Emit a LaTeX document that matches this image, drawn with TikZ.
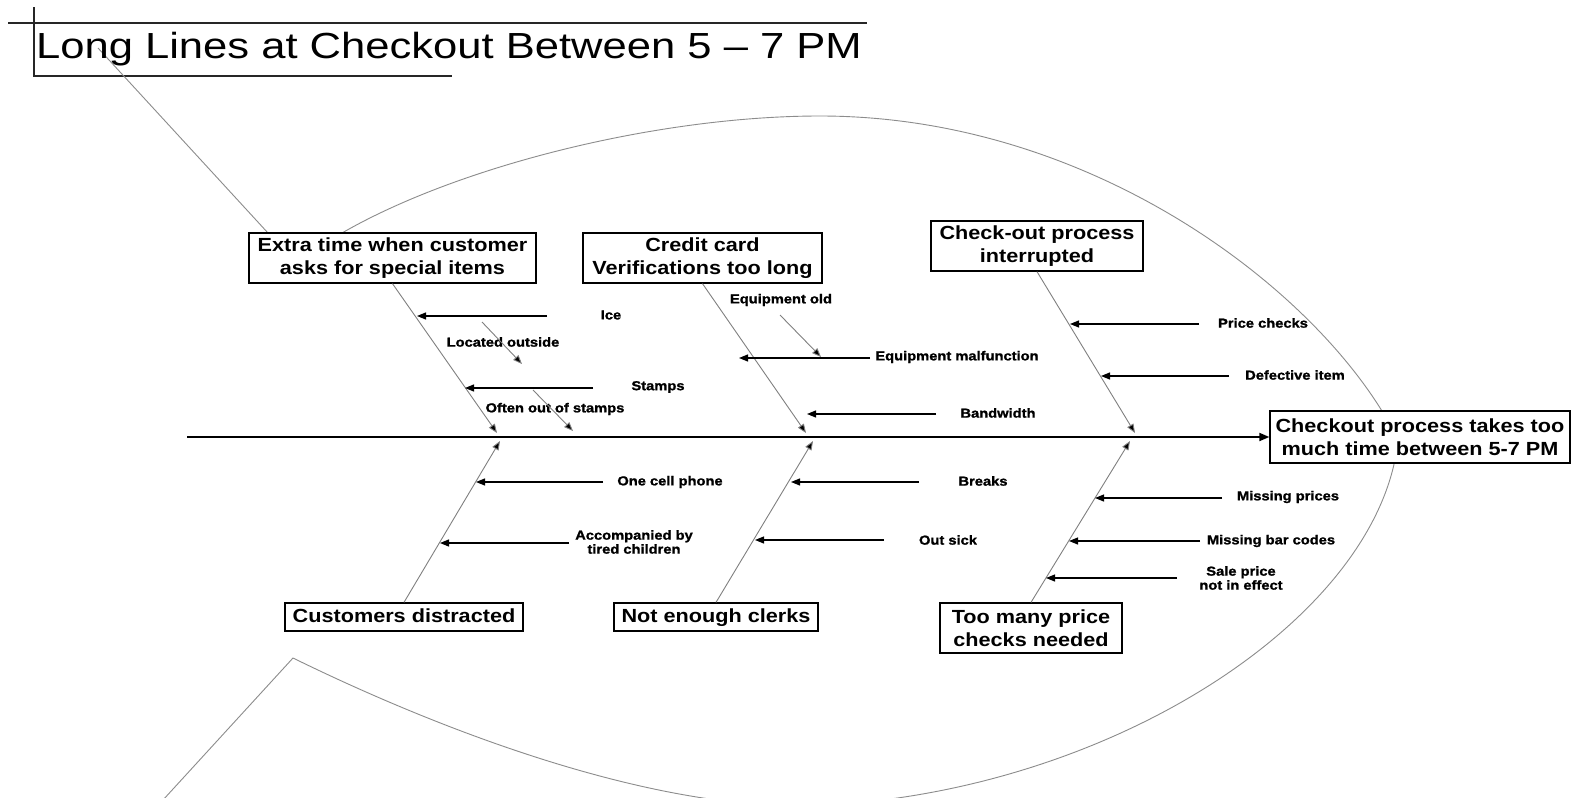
\documentclass[tikz,border=0pt]{standalone}
\usepackage{fontspec}
\setmainfont{Liberation Sans}
\newfontfamily\titlefam[FakeStretch=1.2]{Liberation Sans}
\newfontfamily\boxfam[FakeStretch=1.14]{Liberation Sans}
\newfontfamily\lblfam[FakeStretch=1.13, BoldFeatures={FakeBold=1.3}]{Liberation Sans}
\newcommand\titlefnt{\titlefam\fontsize{36.3}{40}\selectfont}
\newcommand\boxfnt{\boxfam\bfseries\fontsize{19}{22.5}\selectfont}
\newcommand\lblfnt{\lblfam\bfseries\fontsize{13}{14}\selectfont}
\usetikzlibrary{arrows.meta,calc}
\tikzset{
  causebox/.style={draw=black, line width=1.3pt, fill=white, font=\boxfnt, align=center, inner sep=0pt},
  onelinebox/.style={causebox, text height=14pt, text depth=4pt},
  lbl/.style={font=\lblfnt, align=center, inner sep=0pt},
  spine/.style={draw=black, line width=1.8pt, -{Triangle[length=10pt,width=8pt]}},
  bone/.style={draw=black!50, line width=0.9pt, -{Triangle[length=9pt,width=7pt,fill=black]}},
  subarrow/.style={draw=black, line width=1.2pt, -{Triangle[length=9pt,width=7pt]}},
  outline/.style={draw=black!45, line width=0.9pt},
  frameline/.style={draw=black!85, line width=1.1pt}
}
\begin{document}
\begin{tikzpicture}[x=1pt,y=-1pt]
\path[use as bounding box, fill=white] (0,0) rectangle (1572,798);
\begin{scope}
\clip (0,0) rectangle (1572,798);
% fish outline
\coordinate (bodystart) at (342,233);
\coordinate (peak) at (820,116);
\coordinate (nose) at (1398,440);
\coordinate (belly) at (800,806);
\coordinate (tailtop) at (293,658);
\coordinate (tailend) at (152,812);
\draw[outline] (bodystart) .. controls (460,165) and (660,116) .. (peak)
   .. controls (1100,116) and (1330,300) .. (nose)
   .. controls (1380,620) and (1100,800) .. (belly)
   .. controls (640,806) and (440,730) .. (tailtop) -- (tailend);
% title decoration lines
\coordinate (tl1) at (8,23);
\coordinate (tl2) at (867,23);
\coordinate (tv1) at (34,7);
\coordinate (tv2) at (34,76);
\coordinate (tb2) at (452,76);
\coordinate (hd1) at (98,48);
\coordinate (hd2) at (268,233);
\draw[frameline] (tl1) -- (tl2);
\draw[frameline] (tv1) -- (tv2) -- (tb2);
\draw[outline] (hd1) -- (hd2);
\end{scope}

\node[font=\titlefnt, anchor=base, inner sep=0pt] (title) at (449,58) {Long Lines at Checkout Between 5 – 7 PM};

% spine
\node[causebox, minimum width=300pt, minimum height=52pt] (eff) at (1420,437) {Checkout process takes too\\much time between 5-7 PM};
\coordinate (sp0) at (187,437);
\draw[spine] (sp0) -- (eff.west);

% cause boxes
\node[causebox, minimum width=287pt, minimum height=50pt] (c1) at (392.5,258) {Extra time when customer\\asks for special items};
\node[causebox, minimum width=239pt, minimum height=50pt] (c2) at (702.5,258) {Credit card\\Verifications too long};
\node[causebox, minimum width=212pt, minimum height=50pt] (c3) at (1037,246) {Check-out process\\interrupted};
\node[onelinebox, minimum width=238pt, minimum height=28pt] (c5) at (404,617) {Customers distracted};
\node[onelinebox, minimum width=204pt, minimum height=28pt] (c6) at (716,617) {Not enough clerks};
\node[causebox, minimum width=182pt, minimum height=50pt] (c7) at (1031,628) {Too many price\\checks needed};

% bones
\coordinate (u1b) at (497,433);
\coordinate (u2b) at (806,433);
\coordinate (u3b) at (1135,433);
\coordinate (l1b) at (500,441);
\coordinate (l2b) at (813,441);
\coordinate (l3b) at (1130,441);
\draw[bone] (c1.south) -- (u1b);
\draw[bone] (c2.south) -- (u2b);
\draw[bone] (c3.south) -- (u3b);
\draw[bone] (c5.north) -- (l1b);
\draw[bone] (c6.north) -- (l2b);
\draw[bone] (c7.north) -- (l3b);

% labels
\node[lbl] (ice) at (611,315) {Ice};
\node[lbl] (loc) at (503,342) {Located outside};
\node[lbl] (stamps) at (658,387) {Stamps};
\node[lbl] (often) at (555,409) {Often out of stamps};
\node[lbl] (eqold) at (781,300) {Equipment old};
\node[lbl] (eqmal) at (957,357) {Equipment malfunction};
\node[lbl] (band) at (998,413) {Bandwidth};
\node[lbl] (price) at (1263,323) {Price checks};
\node[lbl] (defect) at (1295,375) {Defective item};
\node[lbl] (cell) at (670,482) {One cell phone};
\node[lbl] (accomp) at (634,542) {Accompanied by\\tired children};
\node[lbl] (breaks) at (983,481) {Breaks};
\node[lbl] (sick) at (948,540) {Out sick};
\node[lbl] (misspr) at (1288,497) {Missing prices};
\node[lbl] (missbar) at (1271,541) {Missing bar codes};
\node[lbl] (sale) at (1241,578) {Sale price\\not in effect};

% sub-cause arrows
\coordinate (iceS) at (547,316);    \coordinate (iceE) at (417,316);
\coordinate (stS) at (593,388);     \coordinate (stE) at (465,388);
\coordinate (malS) at (870,358);    \coordinate (malE) at (739,358);
\coordinate (bwS) at (936,414);     \coordinate (bwE) at (807,414);
\coordinate (pcS) at (1199,324);    \coordinate (pcE) at (1070,324);
\coordinate (diS) at (1229,376);    \coordinate (diE) at (1101,376);
\coordinate (ocS) at (603,482);     \coordinate (ocE) at (476,482);
\coordinate (acS) at (569,543);     \coordinate (acE) at (440,543);
\coordinate (brS) at (919,482);     \coordinate (brE) at (791,482);
\coordinate (osS) at (884,540);     \coordinate (osE) at (755,540);
\coordinate (mpS) at (1222,498);    \coordinate (mpE) at (1095,498);
\coordinate (mbS) at (1200,541);    \coordinate (mbE) at (1069,541);
\coordinate (spS) at (1177,578);    \coordinate (spE) at (1046,578);
\draw[subarrow] (iceS) -- (iceE);
\draw[subarrow] (stS) -- (stE);
\draw[subarrow] (malS) -- (malE);
\draw[subarrow] (bwS) -- (bwE);
\draw[subarrow] (pcS) -- (pcE);
\draw[subarrow] (diS) -- (diE);
\draw[subarrow] (ocS) -- (ocE);
\draw[subarrow] (acS) -- (acE);
\draw[subarrow] (brS) -- (brE);
\draw[subarrow] (osS) -- (osE);
\draw[subarrow] (mpS) -- (mpE);
\draw[subarrow] (mbS) -- (mbE);
\draw[subarrow] (spS) -- (spE);

% diagonal secondary arrows
\coordinate (loS) at (482,322);     \coordinate (loE) at (522,364);
\coordinate (ofS) at (533,390);     \coordinate (ofE) at (573,431);
\coordinate (eoS) at (780,315);     \coordinate (eoE) at (821,357);
\draw[bone] (loS) -- (loE);
\draw[bone] (ofS) -- (ofE);
\draw[bone] (eoS) -- (eoE);
\end{tikzpicture}
\end{document}
